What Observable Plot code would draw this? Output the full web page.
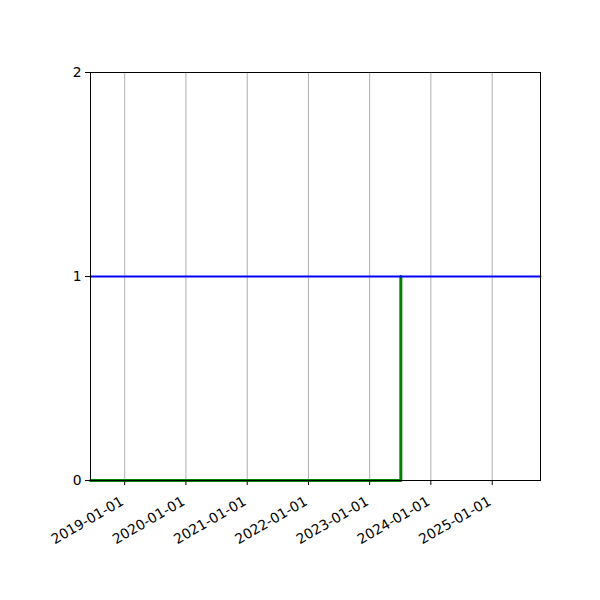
<!DOCTYPE html>
<html>
<head>
<meta charset="utf-8">
<script src="https://cdn.jsdelivr.net/npm/d3@7"></script>
<script src="https://cdn.jsdelivr.net/npm/@observablehq/plot@0.6"></script>
<style>
  html, body { margin: 0; padding: 0; background: #fff; }
  #chart { width: 600px; height: 600px; }
</style>
</head>
<body>
<div id="chart"></div>
<script>
const xDomain = ["2018-06-11", "2025-10-16"];
const yDomain = [0, 2];
const yTicks = [0, 1, 2];
const xTickLabels = ["2019-01-01", "2020-01-01", "2021-01-01", "2022-01-01", "2023-01-01", "2024-01-01", "2025-01-01"];

const blueDates = ["2018-06-11", "2025-10-16"];
const blueValues = [1, 1];

const greenDates = ["2018-06-11", "2023-07-06"];
const greenValues = [0, 1];

const parse = d3.utcParse("%Y-%m-%d");
const fmt = d3.utcFormat("%Y-%m-%d");
const blue = blueDates.map((d, i) => ({date: parse(d), value: blueValues[i]}));
const green = greenDates.map((d, i) => ({date: parse(d), value: greenValues[i]}));
const xTicks = xTickLabels.map(parse);

const plot = Plot.plot({
  width: 600,
  height: 600,
  marginLeft: 90,
  marginRight: 60,
  marginTop: 72,
  marginBottom: 120,
  style: {fontFamily: "DejaVu Sans", fontSize: "13.9px", color: "black", background: "white"},
  x: {type: "utc", domain: xDomain.map(parse)},
  y: {domain: yDomain},
  marks: [
    Plot.gridX(xTicks, {stroke: "#b0b0b0", strokeOpacity: 1, strokeWidth: 1}),
    Plot.line(green, {x: "date", y: "value", curve: "step-after", stroke: "#008000", strokeWidth: 3}),
    Plot.line(blue, {x: "date", y: "value", stroke: "#0000ff", strokeWidth: 2}),
    Plot.frame({stroke: "black", strokeWidth: 1}),
    Plot.axisX({ticks: xTicks, tickFormat: () => "", tickSize: 5, label: null, stroke: "black"}),
    Plot.text(xTicks, {x: d => d, y: () => yDomain[0], text: d => fmt(d), rotate: -30, textAnchor: "end", lineAnchor: "top", dx: -5, dy: 15, fontSize: 13.9, fill: "black"}),
    Plot.axisY({ticks: yTicks, tickFormat: d3.format("d"), tickSize: 5, tickPadding: 4, label: null, stroke: "black"})
  ]
});
document.getElementById("chart").appendChild(plot);
</script>
</body>
</html>
